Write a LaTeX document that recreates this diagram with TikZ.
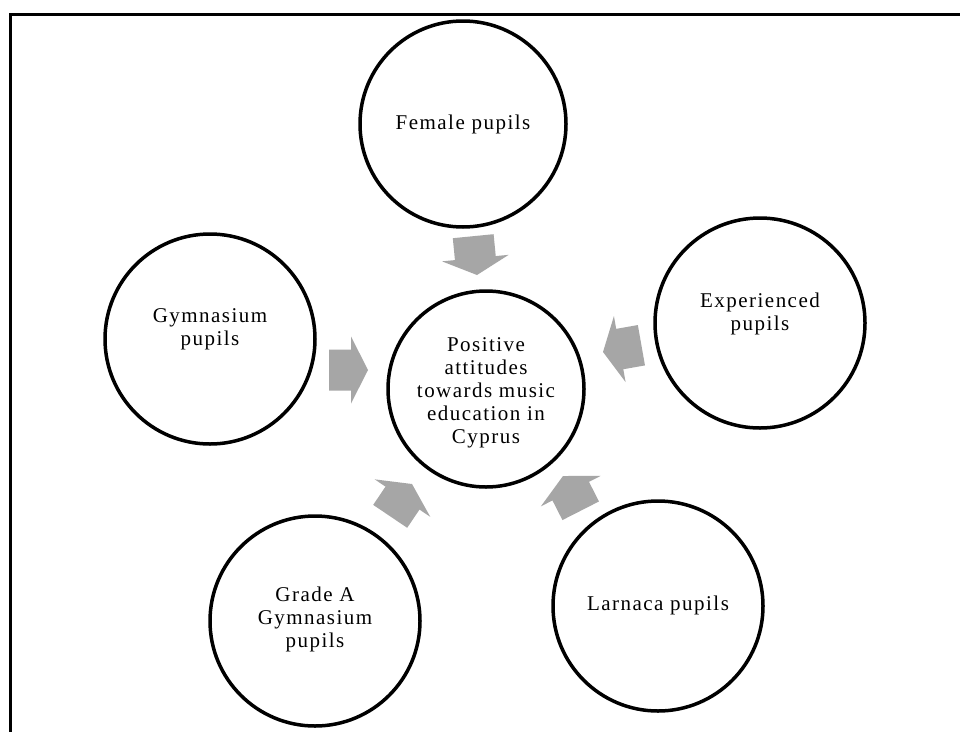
\documentclass[tikz,border=0pt]{standalone}
\usepackage{fontspec}
\setmainfont{Liberation Serif}[LetterSpace=7]
\definecolor{arrowgray}{RGB}{166,166,166}
\begin{document}
\begin{tikzpicture}[x=1pt,y=-1pt,
  caption/.style={font=\fontsize{21}{23}\selectfont,align=center,inner sep=0pt},
  bubble/.style={circle,draw=black,line width=3.5pt,minimum size=210pt,
    inner sep=0pt},
  hub/.style={bubble,minimum size=196pt},
  % block arrow whose tip sits at the pic's origin, pointing along +x
  feeder/.pic={
    \fill[arrowgray] (0,0) -- (-17,33.5) -- (-17,20.5) -- (-39,20.5)
      -- (-39,-20.5) -- (-17,-20.5) -- (-17,-33.5) -- cycle;
  }]
  \useasboundingbox (0,0) rectangle (960,731);
  \clip (0,0) rectangle (960,731);
  \fill[white] (0,0) rectangle (960,731);
  % outer frame (only top and left edges fall inside the page)
  \draw[line width=3.5pt] (10.5,745) -- (10.5,14.5) -- (975,14.5);

  % circles
  \node[hub] (hub) at (486,389) {};
  \node[bubble,minimum size=206pt] (female) at (463,124) {};
  \node[bubble] (gym) at (210,339) {};
  \node[bubble] (exp) at (760,323) {};
  \node[bubble] (grade) at (315,621) {};
  \node[bubble] (lar) at (658,606) {};

  % labels
  \node[caption] (hubtext) at ([yshift=-4pt]hub.center)
    {Positive\\attitudes\\towards music\\education in\\Cyprus};
  \node[caption] (femaletext) at (female.center) {Female pupils};
  \node[caption] (gymtext) at ([yshift=10pt]gym.center) {Gymnasium\\pupils};
  \node[caption] (exptext) at ([yshift=9pt]exp.center) {Experienced\\pupils};
  \node[caption] (gradetext) at ([yshift=2pt]grade.center) {Grade A\\Gymnasium\\pupils};
  \node[caption] (lartext) at ([yshift=1pt]lar.center) {Larnaca pupils};

  % converging arrows
  \pic[rotate=275.6] (afemale) at (477,275) {feeder};
  \pic[rotate=0]     (agym)    at (368,370) {feeder};
  \pic[rotate=190]   (aexp)    at (603,352) {feeder};
  \pic[rotate=56]    (agrade)  at (412,484) {feeder};
  \pic[rotate=117]   (alar)    at (563,476) {feeder};
\end{tikzpicture}
\end{document}
